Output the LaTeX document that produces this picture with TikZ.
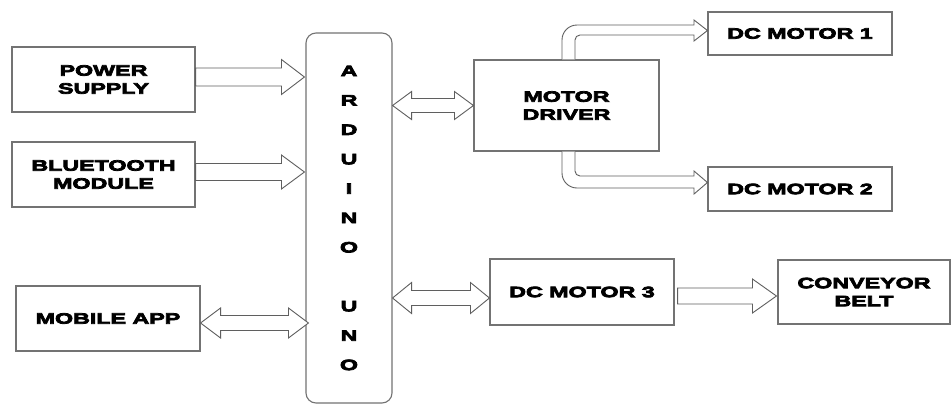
\documentclass[tikz,border=0pt]{standalone}
\usepackage{fontspec}
\newfontfamily\lab{Liberation Sans}[UprightFont=* Bold,FakeStretch=1.55,FakeBold=5]
\usetikzlibrary{calc}
\definecolor{boxgray}{RGB}{115,115,115}
\definecolor{arrgray}{RGB}{95,95,95}
\tikzset{
  blk/.style={draw=boxgray, line width=1.1pt, inner sep=0pt, align=center,
    font=\lab\fontsize{15}{18}\selectfont},
  arr/.style={draw=arrgray, line width=0.9pt, fill=white, line join=miter},
}
% single block arrow: start, end, shaft half-width, head half-width, head length
\newcommand\sarrow[5]{%
  \draw[arr] let \p1=#1, \p2=#2 in
    (\x1,\y1+#3) -- (\x2-#5,\y1+#3) -- (\x2-#5,\y1+#4) -- (\x2,\y1)
    -- (\x2-#5,\y1-#4) -- (\x2-#5,\y1-#3) -- (\x1,\y1-#3) -- cycle;}
% double block arrow
\newcommand\darrow[5]{%
  \draw[arr] let \p1=#1, \p2=#2 in
    (\x1,\y1) -- (\x1+#5,\y1+#4) -- (\x1+#5,\y1+#3) -- (\x2-#5,\y1+#3)
    -- (\x2-#5,\y1+#4) -- (\x2,\y1) -- (\x2-#5,\y1-#4) -- (\x2-#5,\y1-#3)
    -- (\x1+#5,\y1-#3) -- (\x1+#5,\y1-#4) -- cycle;}
\begin{document}
\begin{tikzpicture}[x=1pt,y=-1pt]
\useasboundingbox[fill=white] (0,0) rectangle (952,405);

\node[blk, minimum width=183pt, minimum height=65pt] (ps) at (103.5,79.5) {POWER\\SUPPLY};
\node[blk, minimum width=183pt, minimum height=65pt] (bt) at (103.5,174.5) {BLUETOOTH\\MODULE};
\node[blk, minimum width=184pt, minimum height=65pt] (app) at (108,318.5) {MOBILE APP};
\node[blk, rounded corners=10pt, minimum width=86pt, minimum height=370pt,
      font=\lab\fontsize{15}{29.4}\selectfont] (ard) at (349,218)
      {A\\R\\D\\U\\I\\N\\O\\[29.4pt]U\\N\\O};
\node[blk, minimum width=185pt, minimum height=91pt] (md) at (566.5,105.5) {MOTOR\\DRIVER};
\node[blk, minimum width=184pt, minimum height=43pt] (m1) at (800,33.5) {DC MOTOR 1};
\node[blk, minimum width=184pt, minimum height=44pt] (m2) at (800,189) {DC MOTOR 2};
\node[blk, minimum width=184pt, minimum height=66pt] (dc3) at (582,292) {DC MOTOR 3};
\node[blk, minimum width=172pt, minimum height=64pt] (cb) at (864,292) {CONVEYOR\\BELT};

\sarrow{($(ps.east)+(0,-2.5)$)}{($(ps.east -| ard.west)+(-1,-2.5)$)}{9pt}{17.5pt}{23pt}
\sarrow{($(bt.east)+(0,-2.5)$)}{($(bt.east -| ard.west)+(-1,-2.5)$)}{8.5pt}{17pt}{23pt}
\darrow{($(app.east)+(0,4.5)$)}{($(app.east -| ard.west)+(3,4.5)$)}{7.5pt}{15pt}{20pt}
\darrow{(md.west -| ard.east)}{(md.west)}{7pt}{14pt}{19pt}
\darrow{($(dc3.west -| ard.east)+(0,6)$)}{($(dc3.west)+(0,6)$)}{7.5pt}{15.5pt}{19pt}
\sarrow{($(dc3.east)+(3,4)$)}{($(cb.west)+(-1,4)$)}{8pt}{17pt}{24pt}

% curved arrows from motor driver to motors 1 and 2
\draw[arr] (md.north -| 562,0) -- (562,40) arc[start angle=180,end angle=90,radius=15pt]
  -- (694,25) -- (694,20) -- (m1.west |- 0,30.5) -- (694,41) -- (694,35) -- (580,35)
  arc[start angle=90,end angle=180,radius=5pt] -- (md.north -| 575,0);
\draw[arr] (md.south -| 562,0) -- (562,173) arc[start angle=180,end angle=270,radius=15pt]
  -- (694,188) -- (694,194) -- (m2.west |- 0,182.5) -- (694,171) -- (694,176) -- (580,176)
  arc[start angle=270,end angle=180,radius=5pt] -- (md.south -| 575,0);
\end{tikzpicture}
\end{document}
